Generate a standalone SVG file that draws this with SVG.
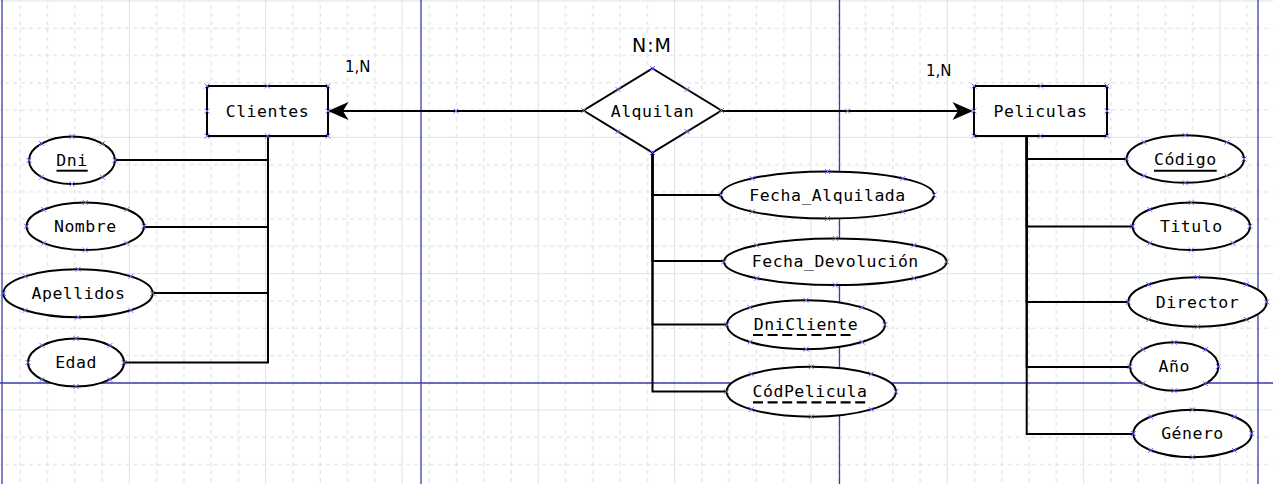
<svg xmlns="http://www.w3.org/2000/svg" xmlns:xlink="http://www.w3.org/1999/xlink" width="1273" height="484" viewBox="0 0 1273 484">
<style>
.shape{fill:#fff;stroke:#000;stroke-width:2}
.t{font-family:"DejaVu Sans Mono","Liberation Mono",monospace;font-size:16.5px;letter-spacing:0.5px;text-anchor:middle;fill:#000}
.card{font-family:"DejaVu Sans","Liberation Sans",sans-serif;fill:#000}
.conn{fill:none;stroke:#000;stroke-width:2}
.ul{stroke:#000;stroke-width:2}
.uld{stroke:#000;stroke-width:2.2;stroke-dasharray:10 4.6}
.page{stroke:#3a3aac;stroke-width:1.3}
.gmaj{stroke:#d9e4e4;stroke-width:1}
.gmin{stroke:#d3dede;stroke-width:1;stroke-dasharray:4.01 4.01}
</style>
<defs>
<pattern id="grid" patternUnits="userSpaceOnUse" x="-75.165" y="-67.165" width="136.33" height="136.33">
<path class="gmin" d="M13.63,0V136.33M40.9,0V136.33M95.43,0V136.33M122.7,0V136.33M0,13.63H136.33M0,40.9H136.33M0,95.43H136.33M0,122.7H136.33"/>
<path class="gmaj" d="M68.165,0V136.33M0,68.165H136.33"/>
</pattern>
<path id="mk" d="M-2.5,-2.5L2.5,2.5M-2.5,2.5L2.5,-2.5" stroke="#6f6ff5" stroke-width="1" fill="none"/>
</defs>
<rect x="0" y="0" width="1273" height="484" fill="#fff"/>
<rect x="0" y="0" width="1273" height="484" fill="url(#grid)"/>
<g id="pages">
<line class="page" x1="2" y1="0" x2="2" y2="484"/>
<line class="page" x1="421" y1="0" x2="421" y2="484"/>
<line class="page" x1="839.5" y1="0" x2="839.5" y2="484"/>
<line class="page" x1="1258" y1="0" x2="1258" y2="484"/>
<line class="page" x1="0" y1="383" x2="1273" y2="383"/>
</g>
<g id="connectors">
<line class="conn" x1="583.5" y1="111" x2="335" y2="111"/>
<path d="M328,111L348.5,102L343,111L348.5,120Z" fill="#000"/>
<line class="conn" x1="721.5" y1="111" x2="966" y2="111"/>
<path d="M973,111L952.5,102L958,111L952.5,120Z" fill="#000"/>
<path class="conn" d="M268,136V160H115"/>
<path class="conn" d="M268,136V227H144"/>
<path class="conn" d="M268,136V293H152.7"/>
<path class="conn" d="M268,136V362.5H124"/>
<path class="conn" d="M652.5,152V195H721"/>
<path class="conn" d="M652.5,152V261H724"/>
<path class="conn" d="M652.5,152V324.5H727"/>
<path class="conn" d="M652.5,152V391.5H726.6"/>
<path class="conn" d="M1026.7,136V159H1126.6"/>
<path class="conn" d="M1026.7,136V226.5H1132.6"/>
<path class="conn" d="M1026.7,136V302H1128.3"/>
<path class="conn" d="M1026.7,136V367H1130"/>
<path class="conn" d="M1026.7,136V434H1133.3"/>
<use href="#mk" x="456" y="111"/>
<use href="#mk" x="847.5" y="111"/>
</g>
<g id="card-labels">
<text class="card" x="652" y="52" font-size="19" letter-spacing="1" text-anchor="middle">N:M</text>
<text class="card" x="345" y="72" font-size="15">1,N</text>
<text class="card" x="926" y="76" font-size="15">1,N</text>
</g>
<g id="clientes">
<rect class="shape" x="207" y="86" width="121" height="50"/>
<text class="t" x="267.5" y="116.5">Clientes</text>
<use href="#mk" x="207" y="86"/><use href="#mk" x="267.5" y="86"/><use href="#mk" x="328" y="86"/>
<use href="#mk" x="207" y="111"/><use href="#mk" x="328" y="111"/>
<use href="#mk" x="207" y="136"/><use href="#mk" x="267.5" y="136"/><use href="#mk" x="328" y="136"/>
</g>
<g id="peliculas">
<rect class="shape" x="974" y="86" width="133" height="50"/>
<text class="t" x="1040.5" y="116.5">Peliculas</text>
<use href="#mk" x="974" y="86"/><use href="#mk" x="1040.5" y="86"/><use href="#mk" x="1107" y="86"/>
<use href="#mk" x="974" y="111"/><use href="#mk" x="1107" y="111"/>
<use href="#mk" x="974" y="136"/><use href="#mk" x="1040.5" y="136"/><use href="#mk" x="1107" y="136"/>
</g>
<g id="alquilan">
<polygon class="shape" points="652.5,68.5 721.5,110.5 652.5,152.5 583.5,110.5"/>
<text class="t" x="652.5" y="116.5">Alquilan</text>
<use href="#mk" x="652.5" y="68.5"/><use href="#mk" x="721.5" y="110.5"/><use href="#mk" x="652.5" y="152.5"/><use href="#mk" x="583.5" y="110.5"/>
<use href="#mk" x="618" y="89.5"/><use href="#mk" x="687" y="89.5"/><use href="#mk" x="618" y="131.5"/><use href="#mk" x="687" y="131.5"/>
</g>
<g id="dni">
<ellipse class="shape" cx="72" cy="160.3" rx="43" ry="23.7"/>
<text class="t" x="72" y="165.8">Dni</text>
<line class="ul" x1="56.5" y1="170.7" x2="87.7" y2="170.7"/>
<use href="#mk" x="115" y="160.3"/><use href="#mk" x="29" y="160.3"/><use href="#mk" x="72" y="136.6"/><use href="#mk" x="72" y="184"/>
<use href="#mk" x="102.4" y="143.5"/><use href="#mk" x="102.4" y="177.1"/><use href="#mk" x="41.6" y="143.5"/><use href="#mk" x="41.6" y="177.1"/>
</g>
<g id="nombre">
<ellipse class="shape" cx="85.3" cy="226.3" rx="58.7" ry="23.7"/>
<text class="t" x="85.3" y="231.8">Nombre</text>
<use href="#mk" x="144" y="226.3"/><use href="#mk" x="26.6" y="226.3"/><use href="#mk" x="85.3" y="202.6"/><use href="#mk" x="85.3" y="250"/>
<use href="#mk" x="126.8" y="209.5"/><use href="#mk" x="126.8" y="243.1"/><use href="#mk" x="43.8" y="209.5"/><use href="#mk" x="43.8" y="243.1"/>
</g>
<g id="apellidos">
<ellipse class="shape" cx="78" cy="293.3" rx="74.7" ry="24"/>
<text class="t" x="78.5" y="298.8">Apellidos</text>
<use href="#mk" x="152.7" y="293.3"/><use href="#mk" x="3.3" y="293.3"/><use href="#mk" x="78" y="269.3"/><use href="#mk" x="78" y="317.3"/>
<use href="#mk" x="130.8" y="276.3"/><use href="#mk" x="130.8" y="310.3"/><use href="#mk" x="25.2" y="276.3"/><use href="#mk" x="25.2" y="310.3"/>
</g>
<g id="edad">
<ellipse class="shape" cx="76" cy="362.5" rx="48" ry="24"/>
<text class="t" x="76" y="368">Edad</text>
<use href="#mk" x="124" y="362.5"/><use href="#mk" x="28" y="362.5"/><use href="#mk" x="76" y="338.5"/><use href="#mk" x="76" y="386.5"/>
<use href="#mk" x="109.9" y="345.5"/><use href="#mk" x="109.9" y="379.5"/><use href="#mk" x="42.1" y="345.5"/><use href="#mk" x="42.1" y="379.5"/>
</g>
<g id="fecha-alquilada">
<ellipse class="shape" cx="827.5" cy="195" rx="106.5" ry="23.5"/>
<text class="t" x="827.5" y="200.5">Fecha_Alquilada</text>
<use href="#mk" x="934" y="195"/><use href="#mk" x="721" y="195"/><use href="#mk" x="827.5" y="171.5"/><use href="#mk" x="827.5" y="218.5"/>
<use href="#mk" x="902.8" y="178.4"/><use href="#mk" x="902.8" y="211.6"/><use href="#mk" x="752.2" y="178.4"/><use href="#mk" x="752.2" y="211.6"/>
</g>
<g id="fecha-devolucion">
<ellipse class="shape" cx="835.3" cy="261.7" rx="111.3" ry="23.3"/>
<text class="t" x="835.3" y="267.2">Fecha_Devolución</text>
<use href="#mk" x="946.6" y="261.7"/><use href="#mk" x="724" y="261.7"/><use href="#mk" x="835.3" y="238.4"/><use href="#mk" x="835.3" y="285"/>
<use href="#mk" x="914" y="245.2"/><use href="#mk" x="914" y="278.2"/><use href="#mk" x="756.6" y="245.2"/><use href="#mk" x="756.6" y="278.2"/>
</g>
<g id="dnicliente">
<ellipse class="shape" cx="806" cy="324.7" rx="79" ry="24.5"/>
<text class="t" x="806" y="330.2">DniCliente</text>
<line class="uld" x1="753" y1="335" x2="851" y2="335"/>
<use href="#mk" x="885" y="324.7"/><use href="#mk" x="727" y="324.7"/><use href="#mk" x="806" y="300.2"/><use href="#mk" x="806" y="349.2"/>
<use href="#mk" x="861.9" y="307.4"/><use href="#mk" x="861.9" y="342"/><use href="#mk" x="750.1" y="307.4"/><use href="#mk" x="750.1" y="342"/>
</g>
<g id="codpelicula">
<ellipse class="shape" cx="811.3" cy="391.7" rx="84.7" ry="25"/>
<text class="t" x="810" y="397.2">CódPelicula</text>
<line class="uld" x1="753" y1="402.3" x2="866.7" y2="402.3"/>
<use href="#mk" x="896" y="391.7"/><use href="#mk" x="726.6" y="391.7"/><use href="#mk" x="811.3" y="366.7"/><use href="#mk" x="811.3" y="416.7"/>
<use href="#mk" x="871.2" y="374"/><use href="#mk" x="871.2" y="409.4"/><use href="#mk" x="751.4" y="374"/><use href="#mk" x="751.4" y="409.4"/>
</g>
<g id="codigo">
<ellipse class="shape" cx="1185.3" cy="159" rx="58.7" ry="23.8"/>
<text class="t" x="1185.3" y="164.5">Código</text>
<line class="ul" x1="1154" y1="170.7" x2="1216.7" y2="170.7"/>
<use href="#mk" x="1244" y="159"/><use href="#mk" x="1126.6" y="159"/><use href="#mk" x="1185.3" y="135.2"/><use href="#mk" x="1185.3" y="182.8"/>
<use href="#mk" x="1226.8" y="142.2"/><use href="#mk" x="1226.8" y="175.8"/><use href="#mk" x="1143.8" y="142.2"/><use href="#mk" x="1143.8" y="175.8"/>
</g>
<g id="titulo">
<ellipse class="shape" cx="1191.3" cy="226.3" rx="58.7" ry="23.7"/>
<text class="t" x="1191.3" y="231.8">Titulo</text>
<use href="#mk" x="1250" y="226.3"/><use href="#mk" x="1132.6" y="226.3"/><use href="#mk" x="1191.3" y="202.6"/><use href="#mk" x="1191.3" y="250"/>
<use href="#mk" x="1232.8" y="209.5"/><use href="#mk" x="1232.8" y="243.1"/><use href="#mk" x="1149.8" y="209.5"/><use href="#mk" x="1149.8" y="243.1"/>
</g>
<g id="director">
<ellipse class="shape" cx="1197.5" cy="302" rx="69.2" ry="24.7"/>
<text class="t" x="1197.5" y="307.5">Director</text>
<use href="#mk" x="1266.7" y="302"/><use href="#mk" x="1128.3" y="302"/><use href="#mk" x="1197.5" y="277.3"/><use href="#mk" x="1197.5" y="326.7"/>
<use href="#mk" x="1246.4" y="284.5"/><use href="#mk" x="1246.4" y="319.5"/><use href="#mk" x="1148.6" y="284.5"/><use href="#mk" x="1148.6" y="319.5"/>
</g>
<g id="anio">
<ellipse class="shape" cx="1174.2" cy="366.5" rx="44.2" ry="24.2"/>
<text class="t" x="1174.2" y="372">Año</text>
<use href="#mk" x="1218.4" y="366.5"/><use href="#mk" x="1130" y="366.5"/><use href="#mk" x="1174.2" y="342.3"/><use href="#mk" x="1174.2" y="390.7"/>
<use href="#mk" x="1205.5" y="349.4"/><use href="#mk" x="1205.5" y="383.6"/><use href="#mk" x="1142.9" y="349.4"/><use href="#mk" x="1142.9" y="383.6"/>
</g>
<g id="genero">
<ellipse class="shape" cx="1192.5" cy="433.5" rx="59.2" ry="23.7"/>
<text class="t" x="1192.5" y="439">Género</text>
<use href="#mk" x="1251.7" y="433.5"/><use href="#mk" x="1133.3" y="433.5"/><use href="#mk" x="1192.5" y="409.8"/><use href="#mk" x="1192.5" y="457.2"/>
<use href="#mk" x="1234.4" y="416.7"/><use href="#mk" x="1234.4" y="450.3"/><use href="#mk" x="1150.6" y="416.7"/><use href="#mk" x="1150.6" y="450.3"/>
</g>
</svg>
